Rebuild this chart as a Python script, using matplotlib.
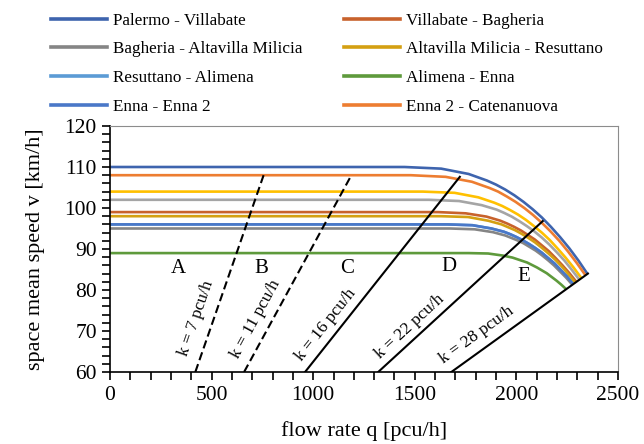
import matplotlib
matplotlib.use('Agg')
import matplotlib.pyplot as plt
import numpy as np

plt.rcParams.update({
    'font.family': ['Liberation Serif', 'DejaVu Serif'],
    'font.size': 13,
})

# speed-flow curves (q in pcu/h, v in km/h)
q_palermo_villabate = [0, 1450, 1630, 1765, 1855, 1900, 1945, 1990, 2035, 2080, 2125, 2170, 2215, 2260, 2305, 2350]
v_palermo_villabate = [110, 110, 109.6, 108.3, 106.7, 105.7, 104.5, 103.1, 101.5, 99.7, 97.7, 95.4, 92.9, 90.2, 87.2, 83.9]

q_enna2_catenanuova = [0, 1480, 1652, 1781, 1867, 1910, 1953, 1996, 2039, 2082, 2125, 2168, 2211, 2254, 2297, 2340]
v_enna2_catenanuova = [108, 108, 107.6, 106.4, 104.9, 104.0, 102.8, 101.5, 100.0, 98.3, 96.4, 94.3, 92.0, 89.4, 86.6, 83.6]

q_extra_yellow = [0, 1540, 1696, 1813, 1891, 1930, 1969, 2008, 2047, 2086, 2125, 2164, 2203, 2242, 2281, 2320]
v_extra_yellow = [104, 104, 103.7, 102.6, 101.3, 100.5, 99.5, 98.4, 97.1, 95.6, 94.0, 92.2, 90.1, 87.9, 85.5, 82.9]

q_extra_gray = [0, 1570, 1718, 1829, 1903, 1940, 1977, 2014, 2051, 2088, 2125, 2162, 2199, 2236, 2273, 2310]
v_extra_gray = [102, 102, 101.7, 100.7, 99.6, 98.8, 97.9, 96.8, 95.6, 94.3, 92.8, 91.1, 89.2, 87.2, 84.9, 82.5]

q_villabate_bagheria = [0, 1615, 1751, 1853, 1921, 1955, 1989, 2023, 2057, 2091, 2125, 2159, 2193, 2227, 2261, 2295]
v_villabate_bagheria = [99, 99, 98.7, 97.9, 96.9, 96.2, 95.4, 94.5, 93.4, 92.3, 90.9, 89.5, 87.8, 86.0, 84.1, 82.0]

q_altavilla_resuttano = [0, 1630, 1762, 1861, 1927, 1960, 1993, 2026, 2059, 2092, 2125, 2158, 2191, 2224, 2257, 2290]
v_altavilla_resuttano = [98, 98, 97.8, 96.9, 96.0, 95.3, 94.6, 93.7, 92.7, 91.6, 90.3, 88.9, 87.4, 85.7, 83.8, 81.8]

q_enna_enna2 = [0, 1660, 1784, 1877, 1939, 1970, 2001, 2032, 2063, 2094, 2125, 2156, 2187, 2218, 2249, 2280]
v_enna_enna2 = [96, 96, 95.8, 95.0, 94.2, 93.6, 92.9, 92.1, 91.2, 90.2, 89.1, 87.8, 86.5, 84.9, 83.3, 81.4]

q_resuttano_alimena = q_enna_enna2
v_resuttano_alimena = v_enna_enna2

q_bagheria_altavilla = [0, 1675, 1795, 1885, 1945, 1975, 2005, 2035, 2065, 2095, 2125, 2155, 2185, 2215, 2245, 2275]
v_bagheria_altavilla = [95, 95, 94.8, 94.1, 93.3, 92.7, 92.1, 91.4, 90.5, 89.6, 88.5, 87.3, 86.0, 84.5, 83.0, 81.3]

q_alimena_enna = [0, 1765, 1861, 1933, 1981, 2005, 2029, 2053, 2077, 2101, 2125, 2149, 2173, 2197, 2221, 2245]
v_alimena_enna = [89, 89, 88.9, 88.4, 87.9, 87.5, 87.1, 86.7, 86.1, 85.5, 84.8, 84.1, 83.2, 82.3, 81.3, 80.2]

# constant-density lines: density and the speed where each line stops
k_values = [7, 11, 16, 22, 28]
k_top_speed = [108, 108, 107.6, 96.8, 84.0]
k_label_q = [427, 718, 1062, 1478, 1803]
k_label_v = [73.2, 72.9, 71.4, 71.0, 69.0]

zone_names = ['A', 'B', 'C', 'D', 'E']
zone_q = [335, 744, 1166, 1670, 2036]
zone_v = [85.3, 85.3, 85.3, 85.7, 83.2]

fig = plt.figure(figsize=(6.44, 4.44), dpi=100)
ax = fig.add_axes([0.1708, 0.1622, 0.7888, 0.554])

series = [
    (q_extra_yellow, v_extra_yellow, '#FFC000', None),
    (q_extra_gray, v_extra_gray, '#A5A5A5', None),
    (q_resuttano_alimena, v_resuttano_alimena, '#5B9BD5', 'Resuttano - Alimena'),
    (q_palermo_villabate, v_palermo_villabate, '#3E64AE', 'Palermo - Villabate'),
    (q_enna2_catenanuova, v_enna2_catenanuova, '#ED7D31', 'Enna 2 - Catenanuova'),
    (q_villabate_bagheria, v_villabate_bagheria, '#C8622C', 'Villabate - Bagheria'),
    (q_altavilla_resuttano, v_altavilla_resuttano, '#D4A012', 'Altavilla Milicia - Resuttano'),
    (q_bagheria_altavilla, v_bagheria_altavilla, '#858585', 'Bagheria - Altavilla Milicia'),
    (q_enna_enna2, v_enna_enna2, '#4A78C8', 'Enna - Enna 2'),
    (q_alimena_enna, v_alimena_enna, '#5E9A3C', 'Alimena - Enna'),
]

handles = {}
for q, v, c, name in series:
    ln, = ax.plot(q, v, color=c, linewidth=1.9, solid_capstyle='butt',
                  solid_joinstyle='round', zorder=2)
    if name:
        handles[name] = ln

# density lines v = q / k
for i, k in enumerate(k_values):
    v_line = np.array([60, k_top_speed[i]])
    ls = (0, (4, 2)) if k < 12 else '-'
    ax.plot(v_line * k, v_line, color='black', linewidth=1.5, linestyle=ls, zorder=3)
    ax.text(k_label_q[i], k_label_v[i], f'k = {k} pcu/h', fontsize=12.5,
            rotation=np.degrees(np.arctan2(1, k)), transform_rotates_text=True,
            rotation_mode='anchor', ha='center', va='center')

for name, q, v in zip(zone_names, zone_q, zone_v):
    ax.text(q, v, name, fontsize=15, ha='center', va='center')

ax.set_xlim(0, 2500)
ax.set_ylim(60, 120)
ax.set_xticks(np.arange(0, 2501, 500))
ax.set_xticks(np.arange(0, 2501, 100), minor=True)
ax.set_yticks(np.arange(60, 121, 10))
ax.set_yticks(np.arange(60, 121, 2), minor=True)
ax.tick_params(which='both', direction='out', length=6, width=1.2, labelsize=15.5)
ax.tick_params(axis='x', pad=4)
ax.set_xlabel('flow rate q [pcu/h]', fontsize=16, labelpad=12)
ax.set_ylabel('space mean speed v [km/h]', fontsize=16, labelpad=14)

for s in ['top', 'right']:
    ax.spines[s].set_color('#8C8C8C')
for s in ['left', 'bottom']:
    ax.spines[s].set_linewidth(1.2)

order = ['Palermo - Villabate', 'Bagheria - Altavilla Milicia', 'Resuttano - Alimena',
         'Enna - Enna 2', 'Villabate - Bagheria', 'Altavilla Milicia - Resuttano',
         'Alimena - Enna', 'Enna 2 - Catenanuova']
leg_handles = []
for n in order:
    h, = ax.plot([], [], color=handles[n].get_color(), linewidth=2.6)
    leg_handles.append(h)
fig.legend(leg_handles, order, ncol=2, loc='upper left', bbox_to_anchor=(0.055, 1.006),
           frameon=False, fontsize=12.3, handlelength=3.3, handletextpad=0.35,
           labelspacing=0.74, columnspacing=2.4)

fig.savefig('out.png', dpi=100)
